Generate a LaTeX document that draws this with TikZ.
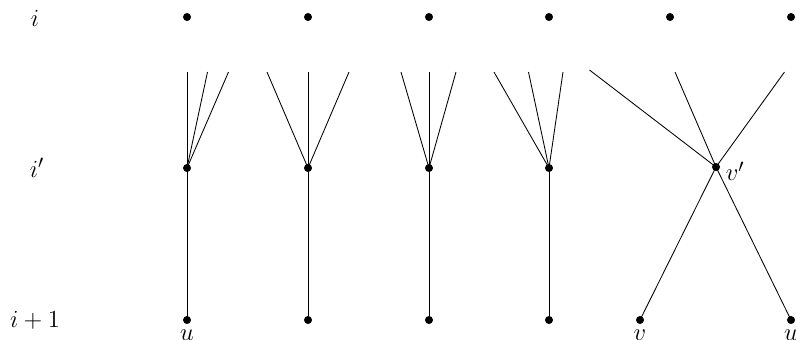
\documentclass[tikz,border=0pt]{standalone}
\begin{document}
\begin{tikzpicture}[x=0.585pt,y=-0.585pt,
  dot/.style={circle,fill=black,inner sep=0pt,minimum size=4.7pt},
  edge/.style={line width=0.5pt},
  lbl/.style={inner sep=0pt,font=\fontsize{15.4}{18}\selectfont}]
\useasboundingbox (0,0) rectangle (796,340);
% row labels
\node[lbl] (li) at (35,18) {$i$};
\node[lbl] (lip) at (37,168) {$i'$};
\node[lbl] (li1) at (35,320) {$i+1$};
% top row
\foreach \x [count=\k] in {187,308,429,549,670,791}
  \node[dot] (t\k) at (\x,17) {};
% middle row
\foreach \x [count=\k] in {187,308,429,549}
  \node[dot] (m\k) at (\x,168) {};
\node[dot] (m5) at (716,167) {};
% bottom row
\foreach \x [count=\k] in {187,308,429,549,640,791}
  \node[dot] (b\k) at (\x,320) {};
% free ends
\coordinate (a1) at (187,72); \coordinate (a2) at (207.5,72); \coordinate (a3) at (228.5,72);
\coordinate (c1) at (267,72); \coordinate (c2) at (308,72); \coordinate (c3) at (349,72);
\coordinate (d1) at (401,72); \coordinate (d2) at (429,72); \coordinate (d3) at (456,72);
\coordinate (e1) at (494,72); \coordinate (e2) at (528.5,72); \coordinate (e3) at (563,72);
\coordinate (f1) at (589.5,70); \coordinate (f2) at (675,72); \coordinate (f3) at (784.5,72);
\foreach \p in {a1,a2,a3} \draw[edge] (\p) -- (m1.center);
\foreach \p in {c1,c2,c3} \draw[edge] (\p) -- (m2.center);
\foreach \p in {d1,d2,d3} \draw[edge] (\p) -- (m3.center);
\foreach \p in {e1,e2,e3} \draw[edge] (\p) -- (m4.center);
\foreach \p in {f1,f2,f3} \draw[edge] (\p) -- (m5.center);
\foreach \k in {1,2,3,4} \draw[edge] (m\k.center) -- (b\k.center);
\draw[edge] (m5.center) -- (b5.center);
\draw[edge] (m5.center) -- (b6.center);
% labels
\node[lbl,anchor=north] at ([yshift=-3.2pt]b1.south) {$u$};
\node[lbl,anchor=north] at ([yshift=-3.2pt]b5.south) {$v$};
\node[lbl,anchor=north] at ([yshift=-3.2pt]b6.south) {$u$};
\node[lbl,anchor=west] at ([xshift=3pt,yshift=-2.5pt]m5.east) {$v'$};
\end{tikzpicture}
\end{document}
